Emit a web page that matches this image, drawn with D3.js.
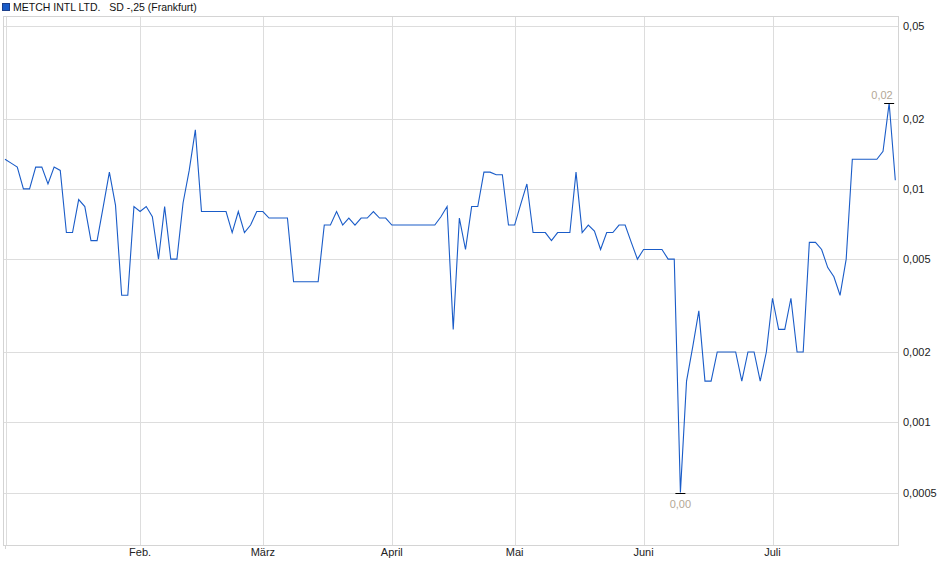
<!DOCTYPE html>
<html>
<head>
<meta charset="utf-8">
<script src="https://cdn.jsdelivr.net/npm/d3@7"></script>
<style>
    body { margin: 0; background: #ffffff; }
    text { font-family: "Liberation Sans", Arial, sans-serif; }
</style>
</head>
<body>
<svg id="chart"></svg>
<script>
// closing prices, one per trading day
var prices = [
    0.0134, 0.0129, 0.0124, 0.0100, 0.0100, 0.0124, 0.0124, 0.0105, 0.0124, 0.0120,
    0.0065, 0.0065, 0.0090, 0.0084, 0.0060, 0.0060, 0.0084, 0.0118, 0.0085, 0.0035,
    0.0035, 0.0084, 0.0080, 0.0084, 0.0076, 0.0050, 0.0084, 0.0050, 0.0050, 0.0087,
    0.0120, 0.0179, 0.0080, 0.0080, 0.0080, 0.0080, 0.0080, 0.0065, 0.0080, 0.0065,
    0.0070, 0.0080, 0.0080, 0.0075, 0.0075, 0.0075, 0.0075, 0.0040, 0.0040, 0.0040,
    0.0040, 0.0040, 0.0070, 0.0070, 0.0080, 0.0070, 0.0075, 0.0070, 0.0075, 0.0075,
    0.0080, 0.0075, 0.0075, 0.0070, 0.0070, 0.0070, 0.0070, 0.0070, 0.0070, 0.0070,
    0.0070, 0.0076, 0.0084, 0.0025, 0.0075, 0.0055, 0.0084, 0.0084, 0.0118, 0.0118,
    0.0115, 0.0115, 0.0070, 0.0070, 0.0086, 0.0105, 0.0065, 0.0065, 0.0065, 0.0060,
    0.0065, 0.0065, 0.0065, 0.0118, 0.0065, 0.0070, 0.0066, 0.0055, 0.0065, 0.0065,
    0.0070, 0.0070, 0.0059, 0.0050, 0.0055, 0.0055, 0.0055, 0.0055, 0.0050, 0.0050,
    0.0005, 0.0015, 0.0021, 0.0030, 0.0015, 0.0015, 0.0020, 0.0020, 0.0020, 0.0020,
    0.0015, 0.0020, 0.0020, 0.0015, 0.0020, 0.0034, 0.0025, 0.0025, 0.0034, 0.0020,
    0.0020, 0.0059, 0.0059, 0.0055, 0.0046, 0.0042, 0.0035, 0.0050, 0.0134, 0.0134,
    0.0134, 0.0134, 0.0134, 0.0145, 0.0233, 0.0109
];

// month starts as trading-day index
var monthLabels = ["", "Feb.", "März", "April", "Mai", "Juni", "Juli"];
var monthIndex = [0.2, 22, 42, 63, 83, 104, 125];

var yTicks = [0.05, 0.02, 0.01, 0.005, 0.002, 0.001, 0.0005];
var yTickLabels = ["0,05", "0,02", "0,01", "0,005", "0,002", "0,001", "0,0005"];

var title = "METCH INTL LTD.   SD -,25 (Frankfurt)";

var dimensions = {
    width: 940,
    height: 579,
    margin: {
        top: 16,
        bottom: 34,
        right: 42,
        left: 3
    }
}

var svg = d3.select("#chart")
    .attr("width", dimensions.width)
    .attr("height", dimensions.height)

var plotLeft = dimensions.margin.left
var plotRight = dimensions.width - dimensions.margin.right
var plotTop = dimensions.margin.top
var plotBottom = dimensions.height - dimensions.margin.bottom

var xScale = d3.scaleLinear()
    .domain([0, prices.length - 1])
    .range([5, 895.3])

var yScale = d3.scaleLog()
    .domain([0.0005, 0.05])
    .range([492.5, 25.8])

// horizontal grid
svg.append("g")
    .selectAll("line")
    .data(yTicks)
    .enter()
    .append("line")
    .attr("x1", plotLeft)
    .attr("x2", plotRight)
    .attr("y1", function(d) { return Math.round(yScale(d)) + 0.5 })
    .attr("y2", function(d) { return Math.round(yScale(d)) + 0.5 })
    .attr("stroke", "#dddddd")

// vertical grid at month starts
svg.append("g")
    .selectAll("line")
    .data(monthIndex)
    .enter()
    .append("line")
    .attr("x1", function(d) { return Math.round(xScale(d)) + 0.5 })
    .attr("x2", function(d) { return Math.round(xScale(d)) + 0.5 })
    .attr("y1", plotTop)
    .attr("y2", plotBottom)
    .attr("stroke", "#dddddd")

// frame
svg.append("rect")
    .attr("x", plotLeft + 0.5)
    .attr("y", plotTop + 0.5)
    .attr("width", plotRight - plotLeft)
    .attr("height", plotBottom - plotTop)
    .attr("fill", "none")
    .attr("stroke", "#d4d4d4")

// small tick under the frame at the first month line
svg.append("line")
    .attr("x1", Math.round(xScale(monthIndex[0])) - 0.5)
    .attr("x2", Math.round(xScale(monthIndex[0])) - 0.5)
    .attr("y1", plotBottom)
    .attr("y2", plotBottom + 4)
    .attr("stroke", "#d4d4d4")

// right axis labels
svg.append("g")
    .selectAll("text")
    .data(yTicks)
    .enter()
    .append("text")
    .attr("x", 903)
    .attr("y", function(d) { return yScale(d) + 4 })
    .attr("font-size", "11px")
    .attr("fill", "#222222")
    .text(function(d, i) { return yTickLabels[i] })

// month labels
svg.append("g")
    .selectAll("text")
    .data(monthIndex)
    .enter()
    .append("text")
    .attr("x", function(d) { return xScale(d) })
    .attr("y", 556)
    .attr("text-anchor", "middle")
    .attr("font-size", "11px")
    .attr("fill", "#222222")
    .text(function(d, i) { return monthLabels[i] })

// price line
var line = d3.line()
    .x(function(d, i) { return xScale(i) })
    .y(function(d) { return yScale(d) })

svg.append("path")
    .datum(prices)
    .attr("d", line)
    .attr("fill", "none")
    .attr("stroke", "#1a5cc8")
    .attr("stroke-width", 1.1)

// min / max markers
var maxIdx = d3.maxIndex(prices)
var minIdx = d3.minIndex(prices)
var fmt = function(v) { return d3.format(".2f")(v).replace(".", ",") }

svg.append("line")
    .attr("x1", xScale(maxIdx) - 5)
    .attr("x2", xScale(maxIdx) + 5)
    .attr("y1", Math.round(yScale(prices[maxIdx])) + 0.5)
    .attr("y2", Math.round(yScale(prices[maxIdx])) + 0.5)
    .attr("stroke", "#000000")
svg.append("text")
    .attr("x", Math.min(xScale(maxIdx), plotRight - 16))
    .attr("y", yScale(prices[maxIdx]) - 4)
    .attr("text-anchor", "middle")
    .attr("font-size", "11px")
    .attr("fill", "#b3a796")
    .text(fmt(prices[maxIdx]))

svg.append("line")
    .attr("x1", xScale(minIdx) - 5)
    .attr("x2", xScale(minIdx) + 5)
    .attr("y1", Math.round(yScale(prices[minIdx])) + 0.5)
    .attr("y2", Math.round(yScale(prices[minIdx])) + 0.5)
    .attr("stroke", "#000000")
svg.append("text")
    .attr("x", xScale(minIdx))
    .attr("y", yScale(prices[minIdx]) + 15)
    .attr("text-anchor", "middle")
    .attr("font-size", "11px")
    .attr("fill", "#b3a796")
    .text(fmt(prices[minIdx]))

// legend
svg.append("rect")
    .attr("x", 2.5)
    .attr("y", 3.5)
    .attr("width", 7)
    .attr("height", 7)
    .attr("fill", "#1a5cc8")
    .attr("stroke", "#1d3f8a")
svg.append("text")
    .attr("x", 13)
    .attr("y", 11)
    .attr("font-size", "10.5px")
    .attr("fill", "#111111")
    .style("white-space", "pre")
    .text(title)
</script>
</body>
</html>
